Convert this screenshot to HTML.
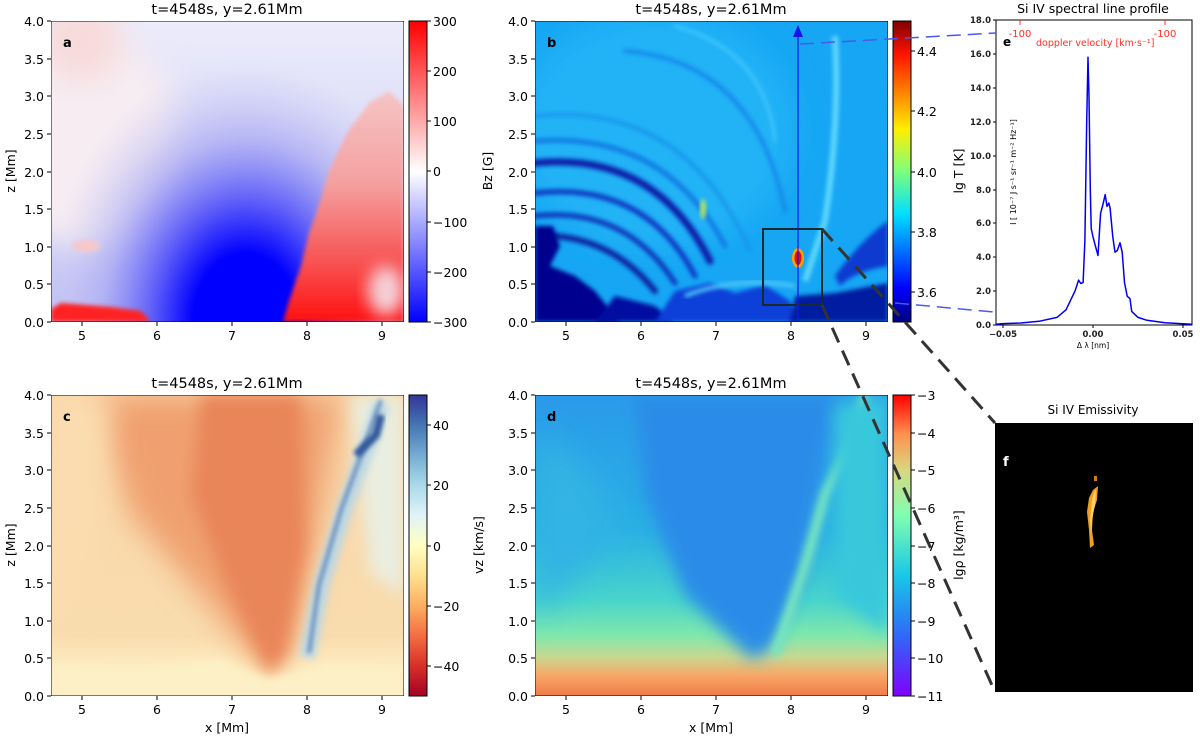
<!DOCTYPE html>
<html><head><meta charset="utf-8"><style>
html,body{margin:0;padding:0;background:#fff;}
svg{display:block;font-family:"DejaVu Sans","Liberation Sans",sans-serif;}
</style></head><body>
<svg width="1200" height="739" viewBox="0 0 1200 739" xmlns="http://www.w3.org/2000/svg">
<defs>
<filter id="b2" x="-20%" y="-20%" width="140%" height="140%"><feGaussianBlur stdDeviation="2"/></filter>
<filter id="b4" x="-30%" y="-30%" width="160%" height="160%"><feGaussianBlur stdDeviation="4"/></filter>
<filter id="b8" x="-30%" y="-30%" width="160%" height="160%"><feGaussianBlur stdDeviation="8"/></filter>
<filter id="b15" x="-50%" y="-50%" width="200%" height="200%"><feGaussianBlur stdDeviation="15"/></filter>
<clipPath id="cp"><rect x="0" y="0" width="353" height="301"/></clipPath>
<linearGradient id="abg" x1="0" y1="0" x2="0" y2="1"><stop offset="0" stop-color="#ececfb"/><stop offset="0.6" stop-color="#d4d4f6"/><stop offset="1" stop-color="#c0c0f4"/></linearGradient>
<radialGradient id="afan" cx="195" cy="301" r="240" gradientUnits="userSpaceOnUse" gradientTransform="translate(195,301) scale(0.85,1.1) translate(-195,-301)"><stop offset="0" stop-color="#0000ff"/><stop offset="0.26" stop-color="#0000ff"/><stop offset="0.42" stop-color="#4c4cfa"/><stop offset="0.7" stop-color="#a8a8f4" stop-opacity="0.7"/><stop offset="1" stop-color="#d0d0f6" stop-opacity="0"/></radialGradient>
<linearGradient id="ared" x1="0" y1="1" x2="0" y2="0"><stop offset="0" stop-color="#ff1010"/><stop offset="0.25" stop-color="#f85050"/><stop offset="0.6" stop-color="#f4a0a0"/><stop offset="1" stop-color="#f6c4c4"/></linearGradient>
<linearGradient id="cbwr" x1="0" y1="0" x2="0" y2="1"><stop offset="0" stop-color="#ff0000"/><stop offset="0.5" stop-color="#ffffff"/><stop offset="1" stop-color="#0000ff"/></linearGradient>
<linearGradient id="cjet" x1="0" y1="1" x2="0" y2="0"><stop offset="0" stop-color="#00007f"/><stop offset="0.11" stop-color="#0000ff"/><stop offset="0.36" stop-color="#00e0ff"/><stop offset="0.5" stop-color="#7dff7a"/><stop offset="0.64" stop-color="#ffef00"/><stop offset="0.89" stop-color="#ff1300"/><stop offset="1" stop-color="#7f0000"/></linearGradient>
<linearGradient id="crdylbu" x1="0" y1="1" x2="0" y2="0"><stop offset="0" stop-color="#a50026"/><stop offset="0.1" stop-color="#d73027"/><stop offset="0.2" stop-color="#f46d43"/><stop offset="0.3" stop-color="#fdae61"/><stop offset="0.4" stop-color="#fee090"/><stop offset="0.5" stop-color="#ffffbf"/><stop offset="0.6" stop-color="#e0f3f8"/><stop offset="0.7" stop-color="#abd9e9"/><stop offset="0.8" stop-color="#74add1"/><stop offset="0.9" stop-color="#4575b4"/><stop offset="1" stop-color="#313695"/></linearGradient>
<linearGradient id="crain" x1="0" y1="1" x2="0" y2="0"><stop offset="0" stop-color="#8000ff"/><stop offset="0.2" stop-color="#3068f8"/><stop offset="0.4" stop-color="#18c8e8"/><stop offset="0.6" stop-color="#80feb0"/><stop offset="0.75" stop-color="#d8d880"/><stop offset="0.87" stop-color="#ff9050"/><stop offset="1" stop-color="#ff0000"/></linearGradient>
<linearGradient id="dbg" x1="0" y1="0" x2="0" y2="1"><stop offset="0" stop-color="#2a9aea"/><stop offset="0.45" stop-color="#2ab0e4"/><stop offset="0.68" stop-color="#48d4cc"/><stop offset="0.8" stop-color="#80e8ac"/><stop offset="0.87" stop-color="#c8d890"/><stop offset="0.93" stop-color="#f8a868"/><stop offset="1" stop-color="#f07a48"/></linearGradient>
<linearGradient id="cbg" x1="0" y1="0" x2="0" y2="1"><stop offset="0" stop-color="#f9d6a8"/><stop offset="0.8" stop-color="#f9dcae"/><stop offset="0.9" stop-color="#fdecc0"/><stop offset="1" stop-color="#fdf0c8"/></linearGradient>
</defs>

<!-- ===== Panel a ===== -->
<g transform="translate(51,21)">
<g clip-path="url(#cp)">
<rect width="353" height="301" fill="url(#abg)"/>
<ellipse cx="40" cy="120" rx="90" ry="110" fill="#f6ecf2" filter="url(#b15)"/>
<ellipse cx="30" cy="20" rx="40" ry="40" fill="#f8dada" filter="url(#b15)"/>
<rect width="353" height="301" fill="url(#afan)"/>
<polygon points="232,301 353,301 353,85 338,70 318,82 296,112 278,150 266,190 258,212 250,245 238,280" fill="url(#ared)" filter="url(#b2)"/>
<ellipse cx="335" cy="270" rx="18" ry="25" fill="#f4d0d8" filter="url(#b8)"/>
<path d="M0,288 L10,282 L60,286 L90,290 L100,301 L0,301Z" fill="#ff2020" filter="url(#b2)"/>
<ellipse cx="35" cy="225" rx="14" ry="6" fill="#f7c8c8" filter="url(#b2)"/>
<rect x="0" y="0" width="353" height="301" fill="none" stroke="#000" stroke-width="1"/>
</g>
<text x="12" y="26" font-size="13" font-weight="bold">a</text>
</g>

<!-- ===== Panel b ===== -->
<g transform="translate(535,21)">
<g clip-path="url(#cp)">
<rect width="353" height="301" fill="#16a6f4"/>
<ellipse cx="120" cy="110" rx="140" ry="120" fill="#22b2f6" filter="url(#b15)"/>
<g fill="none" stroke-linecap="round" filter="url(#b2)">
<path d="M0,142 Q120,130 175,240" stroke="#0a1aa8" stroke-width="7"/>
<path d="M0,172 Q110,160 160,255" stroke="#0a30c0" stroke-width="5"/>
<path d="M0,195 Q90,185 140,262" stroke="#0830b8" stroke-width="5"/>
<path d="M0,120 Q130,110 190,225" stroke="#1070e0" stroke-width="4"/>
<path d="M20,215 Q80,220 120,270" stroke="#0820a0" stroke-width="6"/>
<path d="M90,30 Q220,40 250,190" stroke="#1488ea" stroke-width="4"/>
<path d="M140,5 Q230,30 240,120" stroke="#40c8ff" stroke-width="3"/>
<path d="M0,95 Q150,80 215,230" stroke="#1890ea" stroke-width="3"/>
</g>
<path d="M0,301 L0,205 L18,205 L25,225 L15,245 L40,255 L60,270 L85,301Z" fill="#00008e" filter="url(#b2)"/>
<path d="M60,301 L80,275 L120,285 L140,301Z" fill="#0010a0" filter="url(#b2)"/>
<path d="M120,301 L140,270 L175,262 L200,272 L230,264 L255,280 L265,301Z" fill="#0a40d8" filter="url(#b2)"/>
<path d="M255,301 L260,275 L300,272 L353,262 L353,301Z" fill="#001aa0" filter="url(#b2)"/>
<path d="M300,255 Q325,220 353,200 L353,245 Q320,250 305,265Z" fill="#0a3ad0" filter="url(#b2)"/>
<path d="M300,15 Q305,100 290,200 L270,260" stroke="#60d8ff" stroke-width="6" fill="none" filter="url(#b2)"/>
<path d="M150,275 Q200,255 260,265" stroke="#50c8f8" stroke-width="4" fill="none" filter="url(#b2)"/>
<ellipse cx="168" cy="188" rx="3" ry="10" fill="#b8e860" filter="url(#b2)"/>
<ellipse cx="263" cy="237" rx="6" ry="10" fill="#ffa000"/>
<ellipse cx="263" cy="237" rx="3.5" ry="7" fill="#e01000"/>
<rect x="228" y="208" width="59" height="76" fill="none" stroke="#1a2a2a" stroke-width="2"/>
<line x1="263" y1="301" x2="263" y2="10" stroke="#1414f0" stroke-width="1.2"/>
<polygon points="263,4 258,16 268,16" fill="#1414f0"/>
<rect x="0" y="0" width="353" height="301" fill="none" stroke="#000" stroke-width="1"/>
</g>
<text x="12" y="26" font-size="13" font-weight="bold">b</text>
</g>

<!-- ===== Panel c ===== -->
<g transform="translate(51,395)">
<g clip-path="url(#cp)">
<rect width="353" height="301" fill="url(#cbg)"/>
<path d="M218,280 L150,200 L80,120 L40,0 L290,0 L270,120 L240,250Z" fill="#f0a070" filter="url(#b15)"/>
<path d="M218,280 L180,200 L140,100 L150,0 L250,0 L255,150 L235,260Z" fill="#e98558" filter="url(#b8)"/>
<path d="M0,0 L60,0 L40,150 L0,250Z" fill="#fbddb0" filter="url(#b15)"/>
<path d="M300,0 L353,0 L353,200 L320,180 L305,60Z" fill="#eaeee0" filter="url(#b8)"/>
<path d="M256,263 L271,188 L294,113 L316,53 L331,8" stroke="#bcd8e4" stroke-width="16" fill="none" filter="url(#b4)"/>
<path d="M258,258 L268,190 L290,115 L312,55 L330,5" stroke="#6a90c0" stroke-width="4" fill="none" filter="url(#b2)"/>
<path d="M305,60 L325,40 L330,20" stroke="#30589a" stroke-width="8" fill="none" filter="url(#b2)"/>
<path d="M0,301 L0,270 L80,275 L170,265 L218,285 L280,270 L353,275 L353,301Z" fill="#fdf0c6" filter="url(#b4)"/>
<rect x="0" y="0" width="353" height="301" fill="none" stroke="#000" stroke-width="1"/>
</g>
<text x="12" y="26" font-size="13" font-weight="bold">c</text>
</g>

<!-- ===== Panel d ===== -->
<g transform="translate(535,395)">
<g clip-path="url(#cp)">
<rect width="353" height="301" fill="url(#dbg)"/>
<path d="M0,40 Q60,60 80,140 L0,220Z" fill="#30b4e4" filter="url(#b15)"/>
<path d="M218,265 L150,200 L110,100 L100,0 L300,0 L290,60 L270,180 L240,250Z" fill="#2a8ce8" filter="url(#b8)"/>
<path d="M240,260 L270,170 L290,100 L320,40 L330,0" stroke="#7ae8c0" stroke-width="10" fill="none" filter="url(#b4)"/>
<path d="M300,10 L353,0 L353,240 L300,200Z" fill="#38c8dc" filter="url(#b8)"/>
<rect x="0" y="0" width="353" height="301" fill="none" stroke="#000" stroke-width="1"/>
</g>
<text x="12" y="26" font-size="13" font-weight="bold">d</text>
</g>

<!-- ===== Colorbars ===== -->
<rect x="409" y="21" width="18" height="301" fill="url(#cbwr)" stroke="#000" stroke-width="1"/>
<rect x="893" y="21" width="18" height="301" fill="url(#cjet)" stroke="#000" stroke-width="1"/>
<rect x="409" y="395" width="18" height="301" fill="url(#crdylbu)" stroke="#000" stroke-width="1"/>
<rect x="893" y="395" width="18" height="301" fill="url(#crain)" stroke="#000" stroke-width="1"/>

<g font-size="12.5" fill="#000">
<text x="227" y="14" text-anchor="middle" font-size="14.5">t=4548s, y=2.61Mm</text>
<text x="711" y="14" text-anchor="middle" font-size="14.5">t=4548s, y=2.61Mm</text>
<text x="227" y="388" text-anchor="middle" font-size="14.5">t=4548s, y=2.61Mm</text>
<text x="711" y="388" text-anchor="middle" font-size="14.5">t=4548s, y=2.61Mm</text>

<g stroke="#000" stroke-width="1">
<path d="M47,21h4M47,59h4M47,96h4M47,134h4M47,172h4M47,209h4M47,247h4M47,284h4M47,322h4"/>
<path d="M531,21h4M531,59h4M531,96h4M531,134h4M531,172h4M531,209h4M531,247h4M531,284h4M531,322h4"/>
<path d="M47,395h4M47,433h4M47,470h4M47,508h4M47,546h4M47,583h4M47,621h4M47,658h4M47,696h4"/>
<path d="M531,395h4M531,433h4M531,470h4M531,508h4M531,546h4M531,583h4M531,621h4M531,658h4M531,696h4"/>
<path d="M82,322v4M157,322v4M232,322v4M307,322v4M382,322v4"/>
<path d="M566,322v4M641,322v4M716,322v4M791,322v4M866,322v4"/>
<path d="M82,696v4M157,696v4M232,696v4M307,696v4M382,696v4"/>
<path d="M566,696v4M641,696v4M716,696v4M791,696v4M866,696v4"/>
<path d="M427,21h4M427,71h4M427,121h4M427,171h4M427,222h4M427,272h4M427,322h4"/>
<path d="M911,51h4M911,111h4M911,172h4M911,232h4M911,292h4"/>
<path d="M427,425h4M427,485h4M427,546h4M427,606h4M427,666h4"/>
<path d="M911,395h4M911,433h4M911,470h4M911,508h4M911,546h4M911,583h4M911,621h4M911,658h4M911,696h4"/>
</g>
<g text-anchor="end">
<text x="44" y="26">4.0</text><text x="44" y="64">3.5</text><text x="44" y="101">3.0</text><text x="44" y="139">2.5</text><text x="44" y="177">2.0</text><text x="44" y="214">1.5</text><text x="44" y="252">1.0</text><text x="44" y="289">0.5</text><text x="44" y="327">0.0</text>
<text x="528" y="26">4.0</text><text x="528" y="64">3.5</text><text x="528" y="101">3.0</text><text x="528" y="139">2.5</text><text x="528" y="177">2.0</text><text x="528" y="214">1.5</text><text x="528" y="252">1.0</text><text x="528" y="289">0.5</text><text x="528" y="327">0.0</text>
<text x="44" y="400">4.0</text><text x="44" y="438">3.5</text><text x="44" y="475">3.0</text><text x="44" y="513">2.5</text><text x="44" y="551">2.0</text><text x="44" y="588">1.5</text><text x="44" y="626">1.0</text><text x="44" y="663">0.5</text><text x="44" y="701">0.0</text>
<text x="528" y="400">4.0</text><text x="528" y="438">3.5</text><text x="528" y="475">3.0</text><text x="528" y="513">2.5</text><text x="528" y="551">2.0</text><text x="528" y="588">1.5</text><text x="528" y="626">1.0</text><text x="528" y="663">0.5</text><text x="528" y="701">0.0</text>
</g>
<g text-anchor="middle">
<text x="82" y="340">5</text><text x="157" y="340">6</text><text x="232" y="340">7</text><text x="307" y="340">8</text><text x="382" y="340">9</text>
<text x="566" y="340">5</text><text x="641" y="340">6</text><text x="716" y="340">7</text><text x="791" y="340">8</text><text x="866" y="340">9</text>
<text x="82" y="714">5</text><text x="157" y="714">6</text><text x="232" y="714">7</text><text x="307" y="714">8</text><text x="382" y="714">9</text>
<text x="566" y="714">5</text><text x="641" y="714">6</text><text x="716" y="714">7</text><text x="791" y="714">8</text><text x="866" y="714">9</text>
<text x="227" y="732">x [Mm]</text><text x="711" y="732">x [Mm]</text>
</g>
<text x="433" y="26">300</text><text x="433" y="76">200</text><text x="433" y="126">100</text><text x="433" y="176">0</text><text x="433" y="227">−100</text><text x="433" y="277">−200</text><text x="433" y="327">−300</text>
<text x="917" y="56">4.4</text><text x="917" y="116">4.2</text><text x="917" y="177">4.0</text><text x="917" y="237">3.8</text><text x="917" y="297">3.6</text>
<text x="433" y="430">40</text><text x="433" y="490">20</text><text x="433" y="551">0</text><text x="433" y="611">−20</text><text x="433" y="671">−40</text>
<text x="917" y="400">−3</text><text x="917" y="438">−4</text><text x="917" y="475">−5</text><text x="917" y="513">−6</text><text x="917" y="551">−7</text><text x="917" y="588">−8</text><text x="917" y="626">−9</text><text x="917" y="663">−10</text><text x="917" y="701">−11</text>
<text transform="translate(15,171) rotate(-90)" text-anchor="middle">z [Mm]</text>
<text transform="translate(15,545) rotate(-90)" text-anchor="middle">z [Mm]</text>
<text transform="translate(492,171) rotate(-90)" text-anchor="middle">Bz [G]</text>
<text transform="translate(483,545) rotate(-90)" text-anchor="middle">vz [km/s]</text>
<text transform="translate(963,171) rotate(-90)" text-anchor="middle">lg T [K]</text>
<text transform="translate(963,545) rotate(-90)" text-anchor="middle">lgρ [kg/m³]</text>
</g>

<!-- ===== Panel e ===== -->
<g>
<rect x="996" y="20" width="196" height="305" fill="#fff" stroke="#000" stroke-width="1"/>
<text x="1093" y="13" text-anchor="middle" font-size="12.5">Si IV spectral line profile</text>
<g stroke="#000" stroke-width="1">
<path d="M993,325h3M993,291h3M993,257h3M993,223h3M993,190h3M993,156h3M993,122h3M993,88h3M993,54h3M993,20h3"/>
<path d="M1003,325v3M1093,325v3M1183,325v3"/>
</g>
<g font-size="8.5" text-anchor="end" font-weight="bold" fill="#222">
<text x="991" y="328">0.0</text><text x="991" y="294">2.0</text><text x="991" y="260">4.0</text><text x="991" y="226">6.0</text><text x="991" y="193">8.0</text><text x="991" y="159">10.0</text><text x="991" y="125">12.0</text><text x="991" y="91">14.0</text><text x="991" y="57">16.0</text><text x="991" y="23">18.0</text>
</g>
<g font-size="8.5" text-anchor="middle" font-weight="bold" fill="#222">
<text x="1003" y="337">−0.05</text><text x="1093" y="337">0.00</text><text x="1183" y="337">0.05</text>
</g>
<text x="1093" y="348" text-anchor="middle" font-size="7.5">Δ λ [nm]</text>
<text transform="translate(1016,172) rotate(-90)" text-anchor="middle" font-size="8">I [ 10⁻⁷ J s⁻¹ sr⁻¹ m⁻² Hz⁻¹]</text>
<path d="M1020,20v5M1165,20v5" stroke="#ff3020" stroke-width="1"/>
<text x="1020" y="37" text-anchor="middle" font-size="10" fill="#ff3020">-100</text>
<text x="1165" y="37" text-anchor="middle" font-size="10" fill="#ff3020">-100</text>
<text x="1036" y="46" font-size="9.5" fill="#ff3020">doppler velocity [km·s⁻¹]</text>
<text x="1003" y="46" font-size="12" font-weight="bold">e</text>
<polyline fill="none" stroke="#0000ee" stroke-width="1.5" stroke-linejoin="round" points="996,324.2 1003,323.6 1021,323 1039,321.3 1057,317.4 1066,309.8 1075,291.1 1078.6,280.1 1080.8,283.5 1083.1,282.6 1084.9,240.3 1086.7,121.7 1088,57.3 1089,96.3 1090.3,189.5 1091.2,228.4 1093,236.9 1095.7,247.1 1098,255.5 1100.6,213.2 1102.9,204.7 1105.2,194.6 1107,206.4 1108.8,203 1110.1,208.1 1112.8,236.9 1115,252.2 1117.3,250.5 1120,242.8 1122.2,252.2 1124.5,282.6 1127.2,296.2 1130,298.7 1131.7,311.4 1138,317.4 1147,320.3 1165,322.8 1192,324.2"/>
</g>

<!-- ===== Panel f ===== -->
<text x="1093" y="414" text-anchor="middle" font-size="12">Si IV Emissivity</text>
<rect x="995" y="423" width="198" height="269" fill="#000"/>
<text x="1003" y="466" font-size="13" font-weight="bold" fill="#fff">f</text>
<path d="M1093,490 L1098,486 L1097,500 L1093,512 L1092,530 L1094,545 L1090,548 L1089,530 L1087,512 L1089,498Z" fill="#f0a020"/>
<path d="M1094,492 L1096,490 L1095,505 L1092,520 L1091,535 L1090,520 L1092,500Z" fill="#ffd060"/>
<rect x="1094" y="476" width="3" height="5" fill="#d08010"/>

<g fill="none" stroke="#333" stroke-width="3" stroke-dasharray="16,9">
<line x1="822" y1="229" x2="995" y2="423"/>
<line x1="822" y1="305" x2="995" y2="692"/>
</g>
<g fill="none" stroke="#4a5ae8" stroke-width="1.5" stroke-dasharray="14,7">
<line x1="800" y1="44" x2="996" y2="33"/>
<line x1="895" y1="303" x2="994" y2="312"/>
</g>
</svg>
</body></html>
